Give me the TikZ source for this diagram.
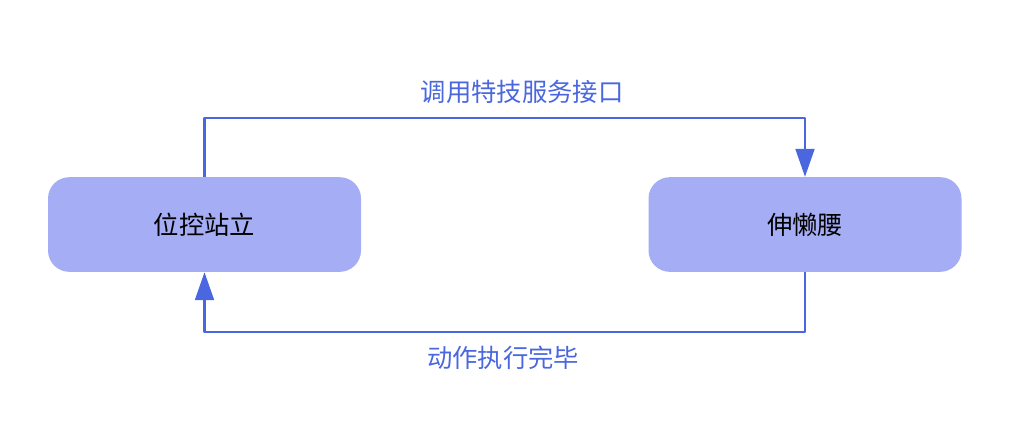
\documentclass[tikz,border=0pt]{standalone}
\usepackage{fontspec}
\setmainfont{Noto Sans CJK SC}
\usetikzlibrary{arrows.meta}
\definecolor{statefill}{HTML}{A5ADF4}
\definecolor{flowblue}{HTML}{4A67E0}
\begin{document}
\begin{tikzpicture}[x=0.75pt,y=-0.75pt,font=\fontsize{19}{22}\selectfont,line join=round,
  state/.style={fill=statefill,rounded corners=16pt,minimum width=234.75pt,minimum height=71pt,inner sep=0pt},
  flow/.style={draw=flowblue,line width=2.2pt,-{Triangle[width=14pt,length=21pt]}},
  lbl/.style={text=flowblue}]
\useasboundingbox (0,0) rectangle (1010,447);
\node[state] (stand) at (204.5,224.5) {位控站立};
\node[state] (stretch) at (805,224.5) {伸懒腰};
\coordinate (top) at (505,118);
\coordinate (bottom) at (505,332);
\draw[flow] (stand.north) |- (top) -| (stretch.north);
\draw[flow] (stretch.south) |- (bottom) -| (stand.south);
\node[lbl] (call) at (522,92) {调用特技服务接口};
\node[lbl] (done) at (503,358) {动作执行完毕};
\end{tikzpicture}
\end{document}
